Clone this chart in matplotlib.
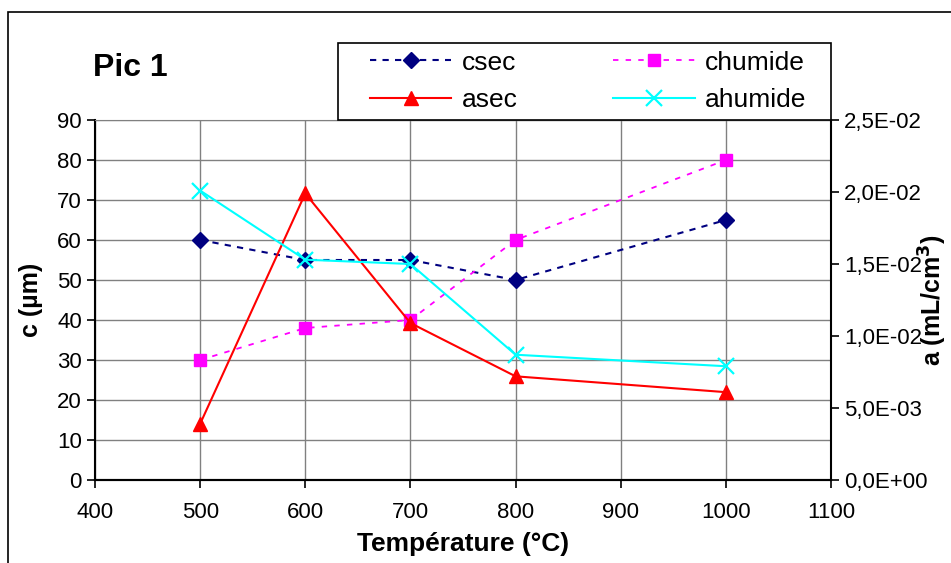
import numpy as np
import matplotlib
matplotlib.use("Agg")
import matplotlib.pyplot as plt
from matplotlib.patches import Rectangle
from matplotlib.ticker import FuncFormatter

plt.rcParams['font.family'] = ['Liberation Sans', 'DejaVu Sans']

# data
temp = [500, 600, 700, 800, 1000]
csec = [60, 55, 55, 50, 65]
chumide = [30, 38, 40, 60, 80]
asec = [0.0039, 0.0199, 0.0109, 0.0072, 0.0061]
ahumide = [0.0201, 0.0153, 0.0150, 0.0087, 0.0079]

x_ticks = [400, 500, 600, 700, 800, 900, 1000, 1100]
c_ticks = [0, 10, 20, 30, 40, 50, 60, 70, 80, 90]
a_ticks = [0.0, 0.005, 0.010, 0.015, 0.020, 0.025]

fig = plt.figure(figsize=(9.51, 5.63), dpi=100)
W, H = 951, 563

# outer chart border
fig.patches.append(Rectangle((8 / W, -0.1), 1.2, 1 - 12 / H + 0.1, transform=fig.transFigure,
                             fill=False, edgecolor='black', linewidth=1.2))

ax = fig.add_axes([95 / W, 1 - 480 / H, (831 - 95) / W, 360 / H])
ax2 = ax.twinx()

l1, = ax.plot(temp, csec, color='#000080', linestyle=(0, (3, 3)), linewidth=1.5,
              marker='D', markersize=8, label='csec')
l2, = ax.plot(temp, chumide, color='#FF00FF', linestyle=(0, (3, 4)), linewidth=1.3,
              marker='s', markersize=8, label='chumide')
l3, = ax2.plot(temp, asec, color='#FF0000', linewidth=1.5,
               marker='^', markersize=10, label='asec')
l4, = ax2.plot(temp, ahumide, color='#00FFFF', linewidth=1.5,
               marker='x', markersize=11, markeredgewidth=1.6, label='ahumide')

ax.set_xlim(400, 1100)
ax.set_ylim(0, 90)
ax.set_xticks(x_ticks)
ax.set_yticks(c_ticks)
ax2.set_ylim(0, 0.025)
ax2.set_yticks(a_ticks)
ax2.yaxis.set_major_formatter(FuncFormatter(lambda v, p: ('%.1E' % v).replace('.', ',')))

ax.grid(True, color='#808080', linewidth=1)
ax.set_axisbelow(True)
ax.spines['top'].set_color('#808080')
ax2.spines['top'].set_visible(False)
ax.spines['right'].set_visible(False)
ax2.spines['left'].set_visible(False)
for a in (ax, ax2):
    for sp in ['left', 'bottom', 'right']:
        a.spines[sp].set_linewidth(1.5)
    a.tick_params(direction='out', length=6, width=1.2, labelsize=16)

ax.tick_params(axis='x', pad=10)
ax.set_xlabel('Température (°C)', fontsize=19, fontweight='bold', labelpad=6)
ax.set_ylabel('c (µm)', fontsize=18, fontweight='bold', labelpad=10)
ax2.set_ylabel('a (mL/cm$^\\mathbf{3}$)', fontsize=18, fontweight='bold', labelpad=-8)

fig.text(93 / W, 1 - 68 / H, 'Pic 1', fontsize=23, fontweight='bold', va='center', ha='left')

# legend box drawn as its own rectangle, entries placed inside it
fig.patches.append(Rectangle((338 / W, 1 - 120 / H), (831 - 338) / W, 77 / H,
                             transform=fig.transFigure, facecolor='white',
                             edgecolor='black', linewidth=1.2, zorder=5))
leg = fig.legend([l1, l3, l2, l4], ['csec', 'asec', 'chumide', 'ahumide'], ncol=2,
                 loc='upper left', bbox_to_anchor=(363 / W, 1 - 44 / H), fontsize=19,
                 frameon=False, handlelength=3.1, columnspacing=3.6, borderpad=0.25,
                 labelspacing=0.5, handletextpad=0.4, borderaxespad=0)
leg.set_zorder(6)

fig.savefig('out.png', dpi=100)
